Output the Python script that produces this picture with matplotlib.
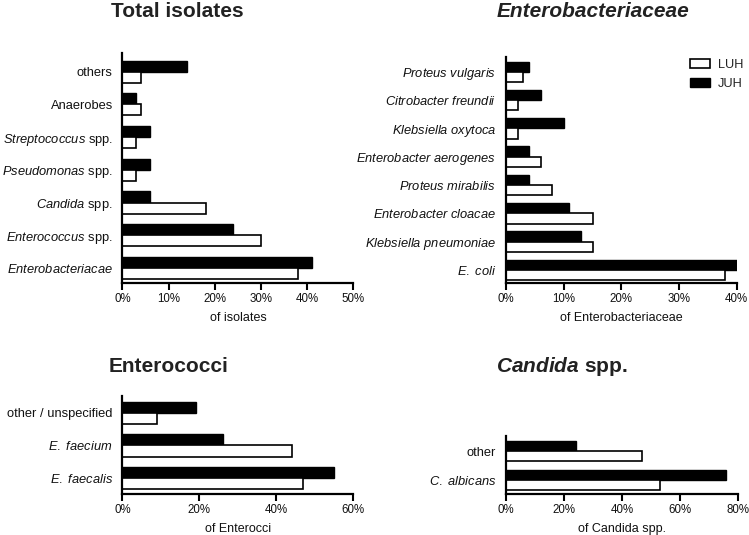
import matplotlib
matplotlib.use("Agg")
import matplotlib.pyplot as plt
import numpy as np
from matplotlib.patches import Patch

plt.rcParams['font.family'] = ['Liberation Sans', 'DejaVu Sans']
plt.rcParams['mathtext.fontset'] = 'custom'
plt.rcParams['mathtext.rm'] = 'Liberation Sans'
plt.rcParams['mathtext.it'] = 'Liberation Sans:italic'
plt.rcParams['mathtext.bf'] = 'Liberation Sans:bold'
plt.rcParams['mathtext.bfit'] = 'Liberation Sans:italic:bold'

# ---- data (categories listed bottom to top) ----
total_cats = [r"$\it{Enterobacteriacae}$", r"$\it{Enterococcus}$ spp.", r"$\it{Candida}$ spp.",
              r"$\it{Pseudomonas}$ spp.", r"$\it{Streptococcus}$ spp.", "Anaerobes", "others"]
total_luh = [38, 30, 18, 3, 3, 4, 4]
total_juh = [41, 24, 6, 6, 6, 3, 14]

entero_cats = [r"$\it{E.\ coli}$", r"$\it{Klebsiella\ pneumoniae}$", r"$\it{Enterobacter\ cloacae}$",
               r"$\it{Proteus\ mirabilis}$", r"$\it{Enterobacter\ aerogenes}$", r"$\it{Klebsiella\ oxytoca}$",
               r"$\it{Citrobacter\ freundii}$", r"$\it{Proteus\ vulgaris}$"]
entero_luh = [38, 15, 15, 8, 6, 2, 2, 3]
entero_juh = [40, 13, 11, 4, 4, 10, 6, 4]

enteroc_cats = [r"$\it{E.\ faecalis}$", r"$\it{E.\ faecium}$", "other / unspecified"]
enteroc_luh = [47, 44, 9]
enteroc_juh = [55, 26, 19]

candida_cats = [r"$\it{C.\ albicans}$", "other"]
candida_luh = [53, 47]
candida_juh = [76, 24]

W, H = 749, 535
fig = plt.figure(figsize=(W / 100, H / 100), dpi=100)


def add_ax(left, right, top, bottom):
    return fig.add_axes([left / W, 1 - bottom / H, (right - left) / W, (bottom - top) / H])


def panel(ax, cats, luh, juh, xmax, step, ylim, xlabel, h=0.34):
    y = np.arange(len(cats))
    ax.barh(y + h / 2, juh, height=h, color='black', edgecolor='black', linewidth=1.0)
    ax.barh(y - h / 2, luh, height=h, color='white', edgecolor='black', linewidth=1.2)
    ax.set_xlim(0, xmax)
    ax.set_ylim(*ylim)
    ax.set_yticks(y)
    ax.set_yticklabels(cats, fontsize=9.3, color='#111111')
    ticks = np.arange(0, xmax + 0.001, step)
    ax.set_xticks(ticks)
    ax.set_xticklabels([f"{int(t)}%" for t in ticks], fontsize=8.3, color='#111111')
    ax.tick_params(axis='y', length=0, pad=7)
    ax.tick_params(axis='x', length=5, width=1.5, pad=2.5, direction='out')
    for s in ['top', 'right']:
        ax.spines[s].set_visible(False)
    for s in ['left', 'bottom']:
        ax.spines[s].set_linewidth(1.6)
    ax.set_xlabel(xlabel, fontsize=9.0, labelpad=5, color='#111111')
    ax.set_facecolor('none')


ax1 = add_ax(122.5, 353.3, 53, 283)
panel(ax1, total_cats, total_luh, total_juh, 50, 10, (-0.46, 6.57), "of isolates")

ax2 = add_ax(506, 736.7, 56.7, 283)
panel(ax2, entero_cats, entero_luh, entero_juh, 40, 10, (-0.46, 7.53), "of Enterobacteriaceae", h=0.36)

ax3 = add_ax(122.5, 353.3, 396, 494)
panel(ax3, enteroc_cats, enteroc_luh, enteroc_juh, 60, 20, (-0.49, 2.52), "of Enterocci")

ax4 = add_ax(506, 737.7, 436, 494)
panel(ax4, candida_cats, candida_luh, candida_juh, 80, 20, (-0.48, 1.52), "of Candida spp.", h=0.345)

# titles
tkw = dict(fontsize=15, fontweight='bold', color='#222222', ha='center', va='baseline')
fig.text(177 / W, 1 - 17 / H, "Total isolates", **tkw)
fig.text(593 / W, 1 - 17 / H, "Enterobacteriaceae", fontstyle='italic', **tkw)
fig.text(169 / W, 1 - 372 / H, "Enterococci", **tkw)
fig.text(561.5 / W, 1 - 372 / H, r"$\mathbfit{Candida}$ spp.", **tkw)

# legend
handles = [Patch(facecolor='white', edgecolor='black', linewidth=1.2, label='LUH'),
           Patch(facecolor='black', edgecolor='black', label='JUH')]
fig.legend(handles=handles, loc='upper left', bbox_to_anchor=(690 / W, 1 - 59 / H),
           frameon=False, fontsize=9.2, handlelength=1.6, handleheight=0.75,
           handletextpad=0.6, labelspacing=0.5, borderpad=0, borderaxespad=0,
           labelcolor='#222222')

fig.savefig("out.png", dpi=100)
